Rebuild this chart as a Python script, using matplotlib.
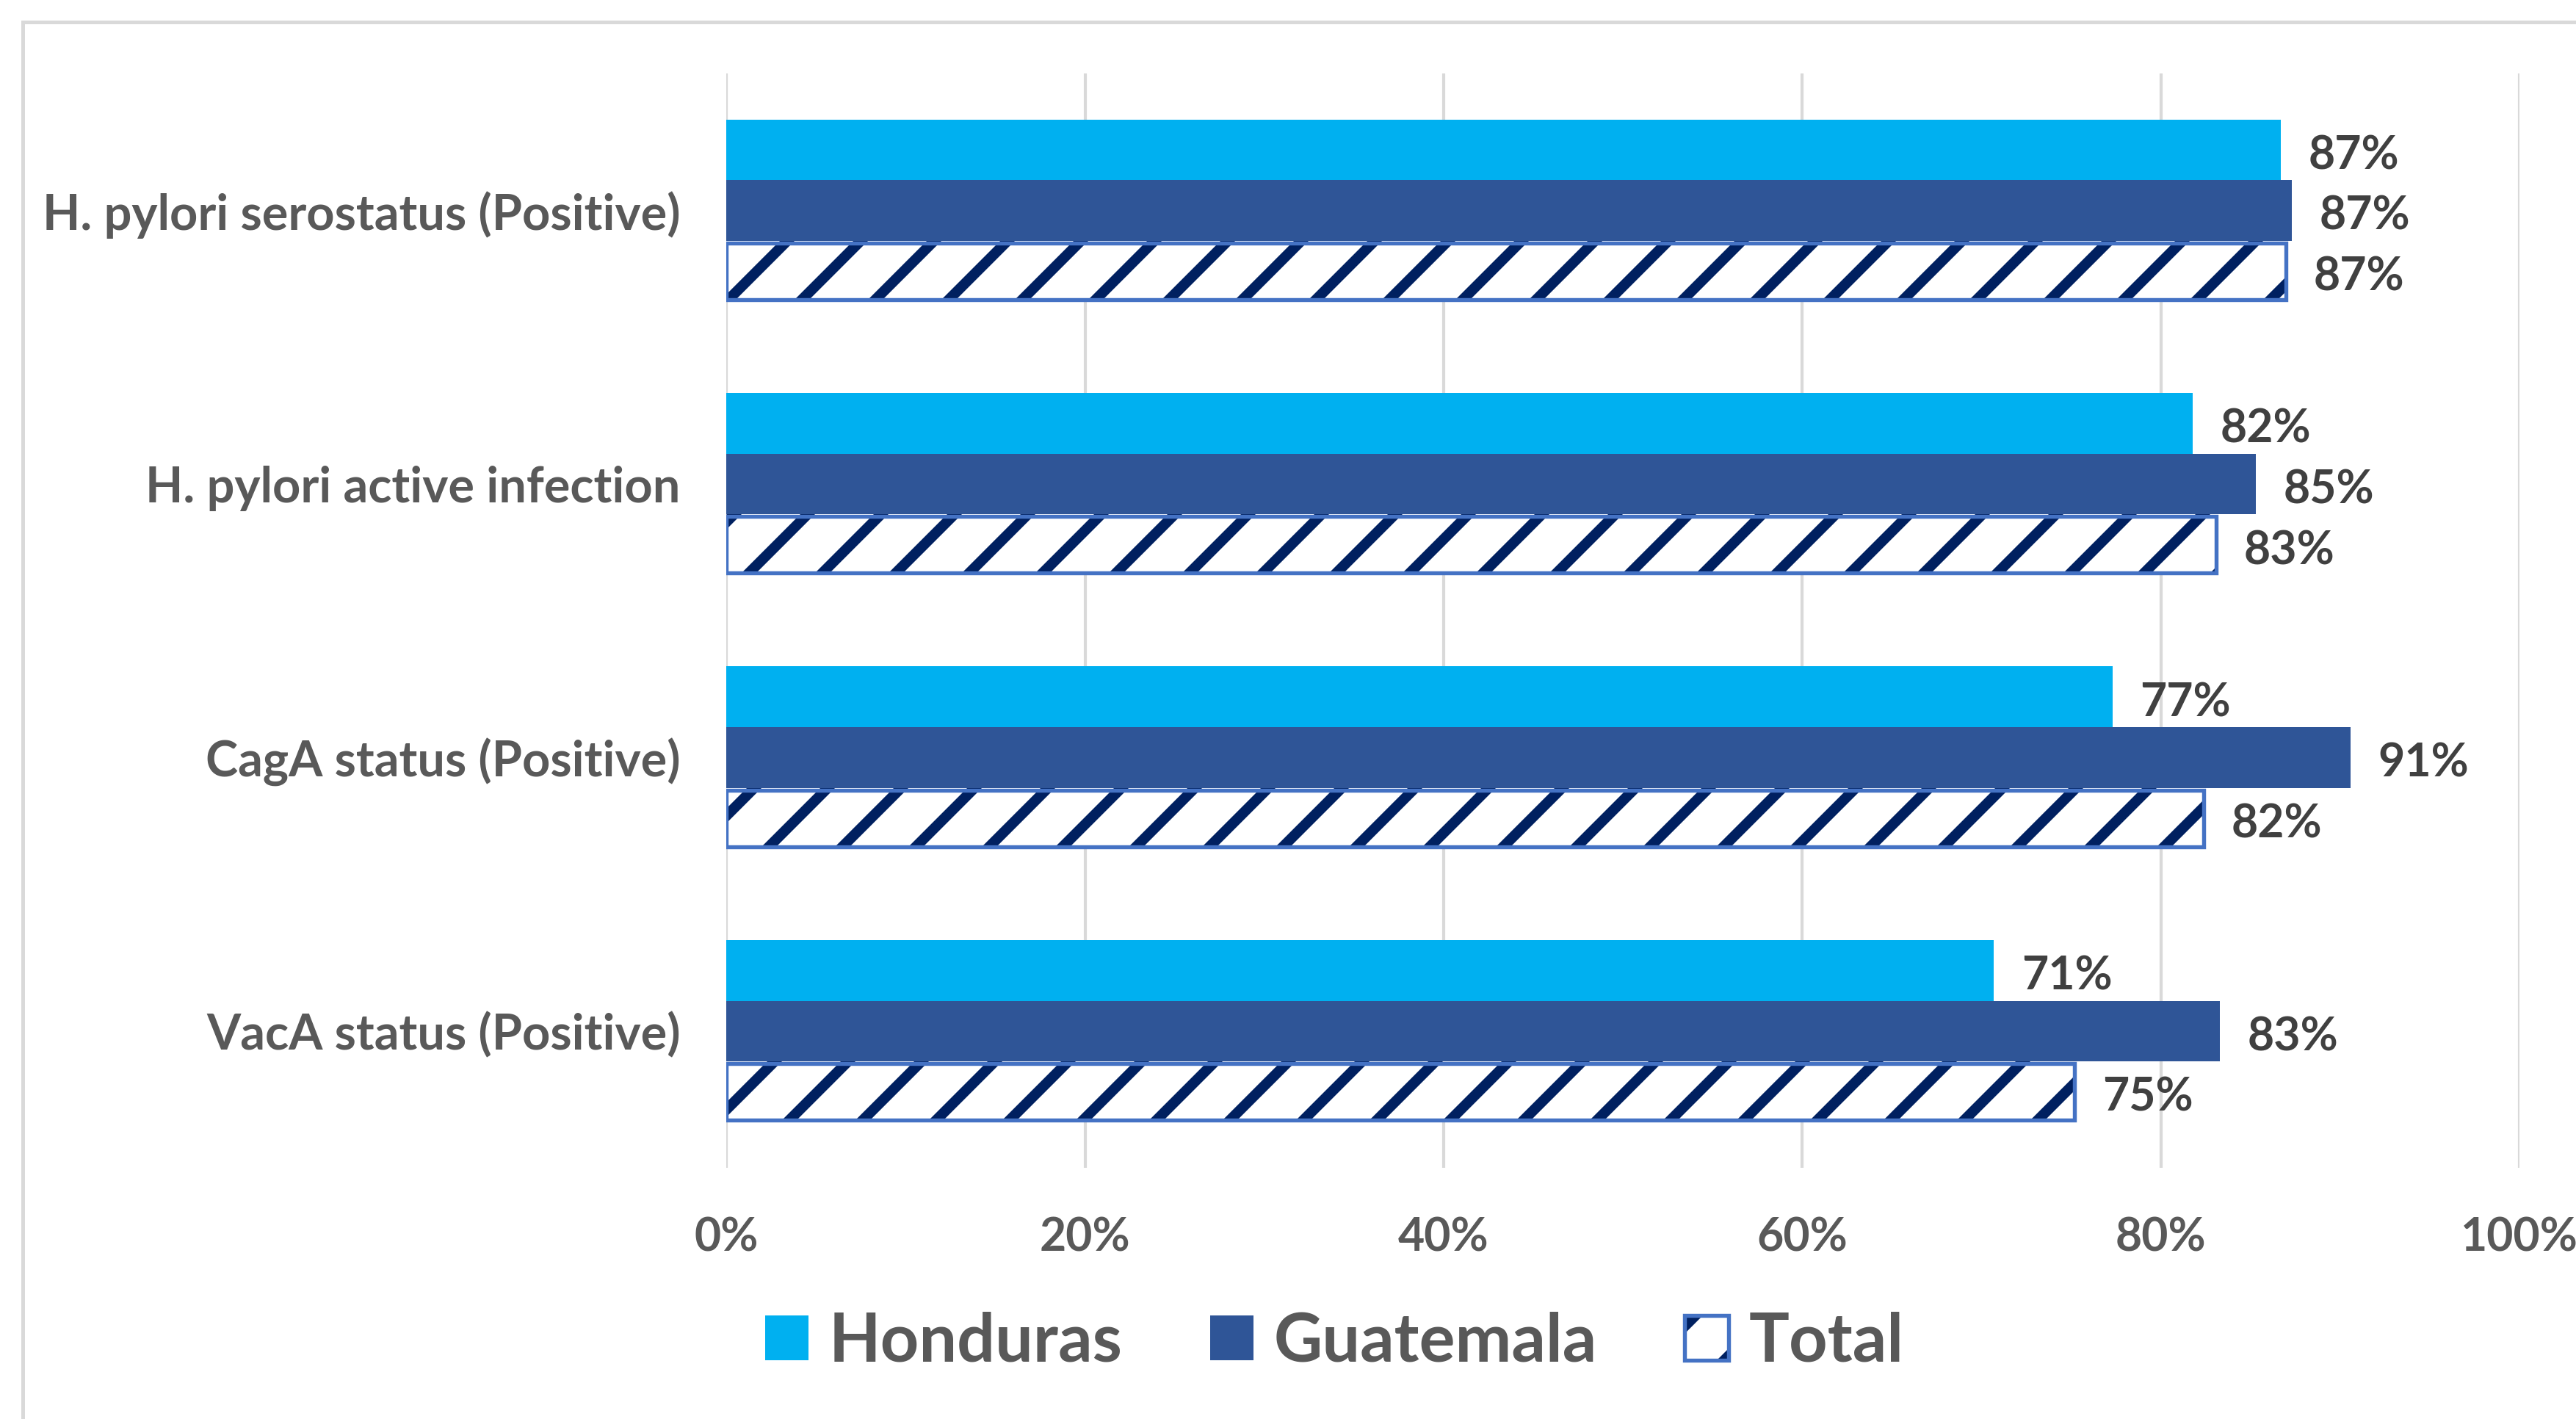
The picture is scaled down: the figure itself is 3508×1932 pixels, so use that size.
import numpy as np
import matplotlib.pyplot as plt
from matplotlib.patches import Rectangle, Patch

plt.rcParams["font.family"] = ["Lato", "DejaVu Sans"]
plt.rcParams["font.weight"] = "bold"
plt.rcParams["hatch.linewidth"] = 3.4

categories = [
    "H. pylori serostatus (Positive)",
    "H. pylori active infection",
    "CagA status (Positive)",
    "VacA status (Positive)",
]
honduras = [0.867, 0.818, 0.773, 0.707]
guatemala = [0.873, 0.853, 0.906, 0.833]
total = [0.870, 0.831, 0.824, 0.752]
xticks = [0, 0.2, 0.4, 0.6, 0.8, 1.0]

C_HON = "#00B0F0"
C_GUA = "#2F5597"
C_HATCH = "#002060"
C_EDGE = "#4472C4"

fig = plt.figure(figsize=(3508 / 300, 1932 / 300), dpi=300)
ax = fig.add_axes([0.282, 0.177, 0.696, 0.771])

# light grey chart frame (only top/left visible)
fig.patches.append(Rectangle((31 / 3508, -0.05), 1.1, 1.05 - 30 / 1932,
                             transform=fig.transFigure, fill=False,
                             edgecolor="#D9D9D9", linewidth=1.2, zorder=0))

y = np.arange(len(categories))
h = 0.222

ax.barh(y - h, honduras, height=h, color=C_HON, zorder=2)
ax.barh(y, guatemala, height=h, color=C_GUA, zorder=2)
ax.barh(y + h, total, height=h, color="white", edgecolor=C_HATCH,
        hatch="/", linewidth=0, zorder=2)
ax.barh(y + h, total, height=h * 0.93, fill=False, edgecolor=C_EDGE,
        linewidth=1.3, zorder=3)

for vals, off in [(honduras, -h), (guatemala, 0), (total, h)]:
    for yi, v in zip(y, vals):
        ax.annotate(f"{round(v * 100):.0f}%", (v, yi + off), xytext=(9, -2),
                    textcoords="offset points", va="center", ha="left",
                    fontsize=15, fontweight="bold", color="#404040")

ax.set_xlim(0, 1)
ax.set_ylim(len(categories) - 0.5, -0.5)
ax.set_yticks(y)
ax.set_yticklabels(categories, fontsize=16, fontweight="bold", color="#595959")
ax.set_xticks(xticks)
ax.set_xticklabels([f"{int(t * 100)}%" for t in xticks], fontsize=15,
                   fontweight="bold", color="#595959")
ax.tick_params(axis="both", length=0)
ax.tick_params(axis="x", pad=16)
ax.tick_params(axis="y", pad=15)
ax.grid(axis="x", color="#D9D9D9", linewidth=1.0, zorder=0)
ax.set_axisbelow(True)
for s in ax.spines.values():
    s.set_visible(False)

# legend: Total key = dark hatch on white with a blue outline
tot_key = (Patch(facecolor="white", edgecolor=C_HATCH, hatch="/", linewidth=0),
           Patch(fill=False, edgecolor=C_EDGE, linewidth=1.3))
handles = [Patch(facecolor=C_HON), Patch(facecolor=C_GUA), tot_key]
fig.legend(handles=handles, labels=["Honduras", "Guatemala", "Total"],
           loc="center", bbox_to_anchor=(0.518, 0.054),
           ncol=3, frameon=False, prop={"size": 22, "weight": "bold"},
           labelcolor="#595959", handlelength=0.65, handleheight=0.65,
           handletextpad=0.3, columnspacing=1.3)

fig.savefig("out.png", dpi=300, facecolor="white")
